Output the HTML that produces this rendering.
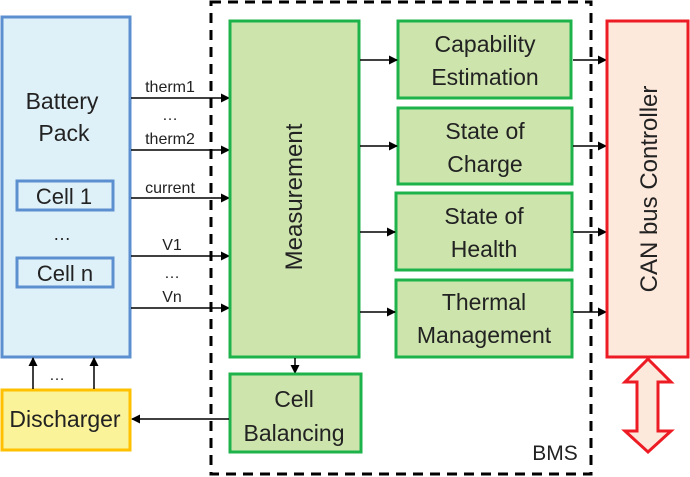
<!DOCTYPE html>
<html><head><meta charset="utf-8"><style>
html,body{margin:0;padding:0;background:#fff;}
svg{display:block;}
text{font-family:"Liberation Sans",sans-serif;fill:#222;}
</style></head><body>
<svg width="690" height="477" viewBox="0 0 690 477" xmlns="http://www.w3.org/2000/svg">
<defs>
<marker id="a" markerWidth="9" markerHeight="9" refX="8" refY="4.5" orient="auto" markerUnits="userSpaceOnUse">
<path d="M0,0 L9,4.5 L0,9 Z" fill="#000"/></marker>
</defs>
<rect x="211" y="2" width="380" height="472" fill="none" stroke="#000" stroke-width="3" stroke-dasharray="10,7"/>
<text x="555" y="460" font-size="21" text-anchor="middle">BMS</text>

<rect x="2" y="17" width="128" height="340" fill="#dff1f8" stroke="#5b8fd0" stroke-width="3"/>
<text x="62" y="109" font-size="23" text-anchor="middle">Battery</text>
<text x="64" y="141" font-size="23" text-anchor="middle">Pack</text>
<rect x="17" y="181" width="96" height="29" fill="#dff1f8" stroke="#5b8fd0" stroke-width="3"/>
<text x="64" y="204" font-size="22" text-anchor="middle">Cell 1</text>
<text x="62" y="240" font-size="18" text-anchor="middle">…</text>
<rect x="17" y="258" width="96" height="29" fill="#dff1f8" stroke="#5b8fd0" stroke-width="3"/>
<text x="65" y="281" font-size="22" text-anchor="middle">Cell n</text>

<g stroke="#000" stroke-width="1.5">
<line x1="131" y1="98" x2="229" y2="98" marker-end="url(#a)"/>
<line x1="131" y1="150" x2="229" y2="150" marker-end="url(#a)"/>
<line x1="131" y1="198" x2="229" y2="198" marker-end="url(#a)"/>
<line x1="131" y1="256" x2="229" y2="256" marker-end="url(#a)"/>
<line x1="131" y1="308" x2="229" y2="308" marker-end="url(#a)"/>
</g>
<g font-size="16" text-anchor="middle">
<text x="170" y="92">therm1</text>
<text x="170" y="120">…</text>
<text x="170" y="144">therm2</text>
<text x="170" y="193">current</text>
<text x="172" y="250">V1</text>
<text x="172" y="278">…</text>
<text x="172" y="302">Vn</text>
</g>

<rect x="230" y="21" width="129" height="336" fill="#cde4ad" stroke="#1db34a" stroke-width="3"/>
<text transform="translate(302,197) rotate(-90)" font-size="24" text-anchor="middle">Measurement</text>
<line x1="295" y1="358" x2="295" y2="373" stroke="#000" stroke-width="1.5" marker-end="url(#a)"/>

<rect x="230" y="374" width="131" height="78" fill="#cde4ad" stroke="#1db34a" stroke-width="3"/>
<text x="294" y="407" font-size="23" text-anchor="middle">Cell</text>
<text x="294" y="441" font-size="23" text-anchor="middle">Balancing</text>
<line x1="229" y1="419" x2="132" y2="419" stroke="#000" stroke-width="1.5" marker-end="url(#a)"/>

<rect x="2" y="390" width="128" height="60" fill="#fbf39a" stroke="#ffc000" stroke-width="3"/>
<text x="65" y="427" font-size="23" text-anchor="middle">Discharger</text>
<line x1="33" y1="389" x2="33" y2="358" stroke="#000" stroke-width="1.5" marker-end="url(#a)"/>
<line x1="94" y1="389" x2="94" y2="358" stroke="#000" stroke-width="1.5" marker-end="url(#a)"/>
<text x="57" y="380" font-size="16" text-anchor="middle">…</text>

<g fill="#cde4ad" stroke="#1db34a" stroke-width="3">
<rect x="398" y="21" width="173" height="77"/>
<rect x="398" y="108" width="174" height="76"/>
<rect x="396" y="193" width="176" height="77"/>
<rect x="396" y="280" width="176" height="77"/>
</g>
<g font-size="23" text-anchor="middle">
<text x="485" y="52">Capability</text>
<text x="485" y="85">Estimation</text>
<text x="485" y="139">State of</text>
<text x="485" y="172">Charge</text>
<text x="484" y="224">State of</text>
<text x="484" y="257">Health</text>
<text x="484" y="310">Thermal</text>
<text x="484" y="343">Management</text>
</g>
<g stroke="#000" stroke-width="1.5">
<line x1="360" y1="60" x2="397" y2="60" marker-end="url(#a)"/>
<line x1="360" y1="146" x2="397" y2="146" marker-end="url(#a)"/>
<line x1="360" y1="232" x2="395" y2="232" marker-end="url(#a)"/>
<line x1="360" y1="312" x2="395" y2="312" marker-end="url(#a)"/>
<line x1="573" y1="60" x2="606" y2="60" marker-end="url(#a)"/>
<line x1="573" y1="146" x2="606" y2="146" marker-end="url(#a)"/>
<line x1="573" y1="232" x2="606" y2="232" marker-end="url(#a)"/>
<line x1="573" y1="312" x2="606" y2="312" marker-end="url(#a)"/>
</g>

<rect x="607" y="21" width="81" height="336" fill="#fde9dc" stroke="#ed1c24" stroke-width="3"/>
<text transform="translate(657,189) rotate(-90)" font-size="24" text-anchor="middle">CAN bus Controller</text>
<path d="M648,359 L671,382 L658,382 L658,431 L671,431 L648,452 L625,431 L637,431 L637,382 L625,382 Z" fill="#fde9dc" stroke="#ed1c24" stroke-width="3" stroke-linejoin="miter"/>
</svg>
</body></html>
